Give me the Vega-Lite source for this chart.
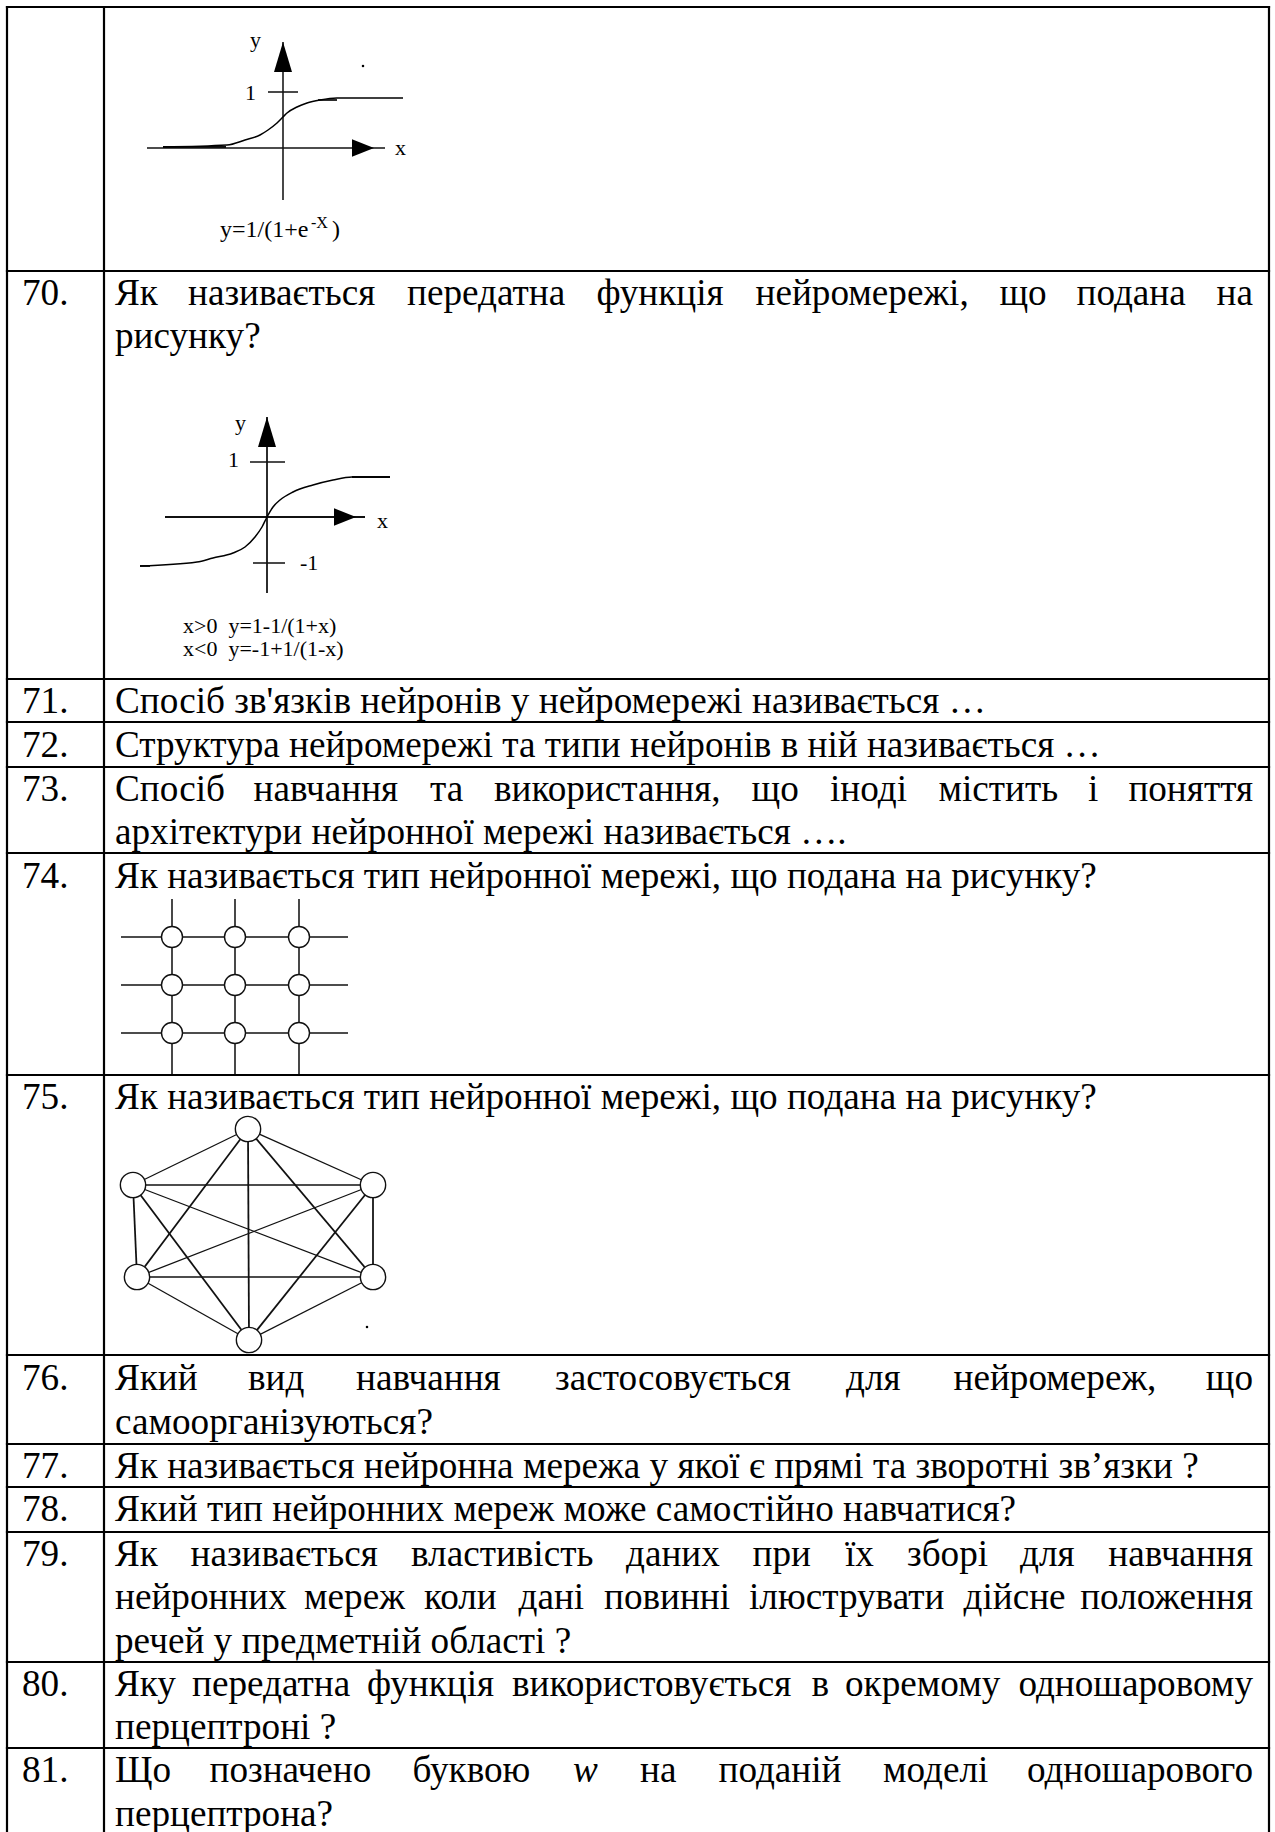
{
  "$schema": "https://vega.github.io/schema/vega-lite/v6.json",
  "width": 1275,
  "height": 1832,
  "autosize": "none",
  "padding": 0,
  "background": "white",
  "config": {"view": {"stroke": null}},
  "datasets": {
    "borders": [
      {"x": 7, "y": 7, "x2": 7, "y2": 1832},
      {"x": 104, "y": 7, "x2": 104, "y2": 1832},
      {"x": 1269, "y": 7, "x2": 1269, "y2": 1832},
      {"x": 7, "y": 7, "x2": 1269, "y2": 7},
      {"x": 7, "y": 271, "x2": 1269, "y2": 271},
      {"x": 7, "y": 679, "x2": 1269, "y2": 679},
      {"x": 7, "y": 722, "x2": 1269, "y2": 722},
      {"x": 7, "y": 767, "x2": 1269, "y2": 767},
      {"x": 7, "y": 853, "x2": 1269, "y2": 853},
      {"x": 7, "y": 1075, "x2": 1269, "y2": 1075},
      {"x": 7, "y": 1355, "x2": 1269, "y2": 1355},
      {"x": 7, "y": 1444, "x2": 1269, "y2": 1444},
      {"x": 7, "y": 1487, "x2": 1269, "y2": 1487},
      {"x": 7, "y": 1532, "x2": 1269, "y2": 1532},
      {"x": 7, "y": 1662, "x2": 1269, "y2": 1662},
      {"x": 7, "y": 1748, "x2": 1269, "y2": 1748}
    ],
    "segments": [
      {"x": 283, "y": 42, "x2": 283, "y2": 200, "w": "medium"},
      {"x": 147, "y": 148, "x2": 385, "y2": 148, "w": "medium"},
      {"x": 268, "y": 92, "x2": 298, "y2": 92, "w": "medium"},
      {"x": 163, "y": 147, "x2": 226, "y2": 147, "w": "heavy"},
      {"x": 318, "y": 100, "x2": 337, "y2": 100, "w": "thick"},
      {"x": 267, "y": 417, "x2": 267, "y2": 593, "w": "thick"},
      {"x": 165, "y": 517, "x2": 365, "y2": 517, "w": "thick"},
      {"x": 250, "y": 462, "x2": 285, "y2": 462, "w": "medium"},
      {"x": 253, "y": 563, "x2": 285, "y2": 563, "w": "medium"},
      {"x": 352, "y": 477, "x2": 390, "y2": 477, "w": "thick"},
      {"x": 140, "y": 566, "x2": 150, "y2": 566, "w": "thick"},
      {"x": 121, "y": 937, "x2": 348, "y2": 937, "w": "medium"},
      {"x": 121, "y": 985, "x2": 348, "y2": 985, "w": "medium"},
      {"x": 121, "y": 1033, "x2": 348, "y2": 1033, "w": "medium"},
      {"x": 172, "y": 899, "x2": 172, "y2": 1075, "w": "medium"},
      {"x": 235, "y": 899, "x2": 235, "y2": 1075, "w": "medium"},
      {"x": 299, "y": 899, "x2": 299, "y2": 1075, "w": "medium"},
      {"x": 248, "y": 1129, "x2": 133, "y2": 1185, "w": "thin"},
      {"x": 248, "y": 1129, "x2": 373, "y2": 1185, "w": "thin"},
      {"x": 133, "y": 1185, "x2": 373, "y2": 1277, "w": "thin"},
      {"x": 373, "y": 1185, "x2": 137, "y2": 1277, "w": "thin"},
      {"x": 137, "y": 1277, "x2": 249, "y2": 1340, "w": "thin"},
      {"x": 373, "y": 1277, "x2": 249, "y2": 1340, "w": "thin"},
      {"x": 133, "y": 1185, "x2": 373, "y2": 1185, "w": "medium"},
      {"x": 137, "y": 1277, "x2": 373, "y2": 1277, "w": "medium"},
      {"x": 248, "y": 1129, "x2": 137, "y2": 1277, "w": "thick"},
      {"x": 248, "y": 1129, "x2": 373, "y2": 1277, "w": "thick"},
      {"x": 248, "y": 1129, "x2": 249, "y2": 1340, "w": "thick"},
      {"x": 133, "y": 1185, "x2": 249, "y2": 1340, "w": "thick"},
      {"x": 373, "y": 1185, "x2": 249, "y2": 1340, "w": "thick"},
      {"x": 133, "y": 1185, "x2": 137, "y2": 1277, "w": "thick"},
      {"x": 373, "y": 1185, "x2": 373, "y2": 1277, "w": "thick"}
    ],
    "curves": [
      {"s": "sigmoid", "o": 1, "x": 163, "y": 147},
      {"s": "sigmoid", "o": 2, "x": 227, "y": 145},
      {"s": "sigmoid", "o": 3, "x": 245, "y": 140},
      {"s": "sigmoid", "o": 4, "x": 260, "y": 135},
      {"s": "sigmoid", "o": 5, "x": 268, "y": 130},
      {"s": "sigmoid", "o": 6, "x": 277, "y": 123},
      {"s": "sigmoid", "o": 7, "x": 283, "y": 117},
      {"s": "sigmoid", "o": 8, "x": 287, "y": 113},
      {"s": "sigmoid", "o": 9, "x": 297, "y": 107},
      {"s": "sigmoid", "o": 10, "x": 307, "y": 103},
      {"s": "sigmoid", "o": 11, "x": 320, "y": 100},
      {"s": "sigmoid", "o": 12, "x": 337, "y": 98},
      {"s": "sigmoid", "o": 13, "x": 403, "y": 98},
      {"s": "rational", "o": 1, "x": 140, "y": 566},
      {"s": "rational", "o": 2, "x": 197, "y": 562},
      {"s": "rational", "o": 3, "x": 213, "y": 558},
      {"s": "rational", "o": 4, "x": 233, "y": 553},
      {"s": "rational", "o": 5, "x": 245, "y": 547},
      {"s": "rational", "o": 6, "x": 255, "y": 537},
      {"s": "rational", "o": 7, "x": 262, "y": 527},
      {"s": "rational", "o": 8, "x": 267, "y": 517},
      {"s": "rational", "o": 9, "x": 273, "y": 507},
      {"s": "rational", "o": 10, "x": 280, "y": 500},
      {"s": "rational", "o": 11, "x": 293, "y": 492},
      {"s": "rational", "o": 12, "x": 313, "y": 485},
      {"s": "rational", "o": 13, "x": 333, "y": 480},
      {"s": "rational", "o": 14, "x": 352, "y": 477},
      {"s": "rational", "o": 15, "x": 390, "y": 477}
    ],
    "arrows": [
      {"x": 283, "y": 57, "dir": "up"},
      {"x": 363, "y": 148, "dir": "right"},
      {"x": 267, "y": 432, "dir": "up"},
      {"x": 345, "y": 517, "dir": "right"}
    ],
    "nodes": [
      {"x": 172, "y": 937, "net": "grid"},
      {"x": 235, "y": 937, "net": "grid"},
      {"x": 299, "y": 937, "net": "grid"},
      {"x": 172, "y": 985, "net": "grid"},
      {"x": 235, "y": 985, "net": "grid"},
      {"x": 299, "y": 985, "net": "grid"},
      {"x": 172, "y": 1033, "net": "grid"},
      {"x": 235, "y": 1033, "net": "grid"},
      {"x": 299, "y": 1033, "net": "grid"},
      {"x": 248, "y": 1129, "net": "hex"},
      {"x": 133, "y": 1185, "net": "hex"},
      {"x": 373, "y": 1185, "net": "hex"},
      {"x": 137, "y": 1277, "net": "hex"},
      {"x": 373, "y": 1277, "net": "hex"},
      {"x": 249, "y": 1340, "net": "hex"}
    ],
    "dots": [
      {"x": 363, "y": 66},
      {"x": 367, "y": 1327}
    ],
    "texts": [
      {"role": "label", "x": 250, "y": 47, "t": "y"},
      {"role": "label", "x": 245, "y": 100, "t": "1"},
      {"role": "label", "x": 395, "y": 155, "t": "x"},
      {"role": "formula", "x": 220, "y": 237, "t": "y=1/(1+e"},
      {"role": "sup", "x": 311, "y": 228, "t": "-X"},
      {"role": "formula", "x": 332, "y": 237, "t": ")"},
      {"role": "label", "x": 235, "y": 430, "t": "y"},
      {"role": "label", "x": 228, "y": 467, "t": "1"},
      {"role": "label", "x": 377, "y": 528, "t": "x"},
      {"role": "label", "x": 300, "y": 570, "t": "-1"},
      {"role": "label", "x": 183, "y": 633, "t": "x>0\u00a0 y=1-1/(1+x)"},
      {"role": "label", "x": 183, "y": 656, "t": "x<0\u00a0 y=-1+1/(1-x)"},

      {"role": "num", "x": 22, "y": 305, "t": "70."},
      {"role": "num", "x": 22, "y": 713, "t": "71."},
      {"role": "num", "x": 22, "y": 757, "t": "72."},
      {"role": "num", "x": 22, "y": 801, "t": "73."},
      {"role": "num", "x": 22, "y": 888, "t": "74."},
      {"role": "num", "x": 22, "y": 1109, "t": "75."},
      {"role": "num", "x": 22, "y": 1390, "t": "76."},
      {"role": "num", "x": 22, "y": 1478, "t": "77."},
      {"role": "num", "x": 22, "y": 1521, "t": "78."},
      {"role": "num", "x": 22, "y": 1566, "t": "79."},
      {"role": "num", "x": 22, "y": 1696, "t": "80."},
      {"role": "num", "x": 22, "y": 1782, "t": "81."},

      {"role": "body", "x": 115, "y": 305, "t": "Як"},
      {"role": "body", "x": 188, "y": 305, "t": "називається"},
      {"role": "body", "x": 407, "y": 305, "t": "передатна"},
      {"role": "body", "x": 596.6, "y": 305, "t": "функція"},
      {"role": "body", "x": 755.5, "y": 305, "t": "нейромережі,"},
      {"role": "body", "x": 999.4, "y": 305, "t": "що"},
      {"role": "body", "x": 1076.5, "y": 305, "t": "подана"},
      {"role": "bodyEnd", "x": 1253, "y": 305, "t": "на"},
      {"role": "body", "x": 115, "y": 348, "t": "рисунку?"},

      {"role": "body", "x": 115, "y": 713, "t": "Спосіб зв'язків нейронів у нейромережі називається …"},
      {"role": "body", "x": 115, "y": 757, "t": "Структура нейромережі та типи нейронів в ній називається …"},

      {"role": "body", "x": 115, "y": 801, "t": "Спосіб"},
      {"role": "body", "x": 253.5, "y": 801, "t": "навчання"},
      {"role": "body", "x": 430, "y": 801, "t": "та"},
      {"role": "body", "x": 494, "y": 801, "t": "використання,"},
      {"role": "body", "x": 751.5, "y": 801, "t": "що"},
      {"role": "body", "x": 830, "y": 801, "t": "іноді"},
      {"role": "body", "x": 938.5, "y": 801, "t": "містить"},
      {"role": "body", "x": 1088, "y": 801, "t": "і"},
      {"role": "bodyEnd", "x": 1253, "y": 801, "t": "поняття"},
      {"role": "body", "x": 115, "y": 844, "t": "архітектури нейронної мережі називається …."},

      {"role": "body", "x": 115, "y": 888, "t": "Як називається тип нейронної мережі, що подана на рисунку?"},
      {"role": "body", "x": 115, "y": 1109, "t": "Як називається тип нейронної мережі, що подана на рисунку?"},

      {"role": "body", "x": 115, "y": 1390, "t": "Який"},
      {"role": "body", "x": 248, "y": 1390, "t": "вид"},
      {"role": "body", "x": 356, "y": 1390, "t": "навчання"},
      {"role": "body", "x": 555, "y": 1390, "t": "застосовується"},
      {"role": "body", "x": 846, "y": 1390, "t": "для"},
      {"role": "body", "x": 953.5, "y": 1390, "t": "нейромереж,"},
      {"role": "bodyEnd", "x": 1253, "y": 1390, "t": "що"},
      {"role": "body", "x": 115, "y": 1434, "t": "самоорганізуються?"},

      {"role": "body", "x": 115, "y": 1478, "t": "Як називається нейронна мережа у якої є прямі та зворотні зв’язки ?"},
      {"role": "body", "x": 115, "y": 1521, "t": "Який тип нейронних мереж може самостійно навчатися?"},

      {"role": "body", "x": 115, "y": 1566, "t": "Як"},
      {"role": "body", "x": 190.5, "y": 1566, "t": "називається"},
      {"role": "body", "x": 411, "y": 1566, "t": "властивість"},
      {"role": "body", "x": 626, "y": 1566, "t": "даних"},
      {"role": "body", "x": 752.5, "y": 1566, "t": "при"},
      {"role": "body", "x": 845, "y": 1566, "t": "їх"},
      {"role": "body", "x": 907, "y": 1566, "t": "зборі"},
      {"role": "body", "x": 1020, "y": 1566, "t": "для"},
      {"role": "bodyEnd", "x": 1253, "y": 1566, "t": "навчання"},
      {"role": "body", "x": 115, "y": 1609, "t": "нейронних"},
      {"role": "body", "x": 304, "y": 1609, "t": "мереж"},
      {"role": "body", "x": 424, "y": 1609, "t": "коли"},
      {"role": "body", "x": 518.5, "y": 1609, "t": "дані"},
      {"role": "body", "x": 604, "y": 1609, "t": "повинні"},
      {"role": "body", "x": 749, "y": 1609, "t": "ілюструвати"},
      {"role": "body", "x": 963.5, "y": 1609, "t": "дійсне"},
      {"role": "bodyEnd", "x": 1253, "y": 1609, "t": "положення"},
      {"role": "body", "x": 115, "y": 1653, "t": "речей у предметній області ?"},

      {"role": "body", "x": 115, "y": 1696, "t": "Яку"},
      {"role": "body", "x": 192, "y": 1696, "t": "передатна"},
      {"role": "body", "x": 367, "y": 1696, "t": "функція"},
      {"role": "body", "x": 512, "y": 1696, "t": "використовується"},
      {"role": "body", "x": 811.5, "y": 1696, "t": "в"},
      {"role": "body", "x": 845, "y": 1696, "t": "окремому"},
      {"role": "bodyEnd", "x": 1253, "y": 1696, "t": "одношаровому"},
      {"role": "body", "x": 115, "y": 1739, "t": "перцептроні ?"},

      {"role": "body", "x": 115, "y": 1782, "t": "Що"},
      {"role": "body", "x": 209.5, "y": 1782, "t": "позначено"},
      {"role": "body", "x": 412.5, "y": 1782, "t": "буквою"},
      {"role": "italic", "x": 573, "y": 1782, "t": "w"},
      {"role": "body", "x": 640, "y": 1782, "t": "на"},
      {"role": "body", "x": 718.5, "y": 1782, "t": "поданій"},
      {"role": "body", "x": 883, "y": 1782, "t": "моделі"},
      {"role": "bodyEnd", "x": 1253, "y": 1782, "t": "одношарового"},
      {"role": "body", "x": 115, "y": 1826, "t": "перцептрона?"}
    ]
  },
  "encoding": {
    "x": {"field": "x", "type": "quantitative", "axis": null,
          "scale": {"domain": [0, 1275], "range": [0, 1275], "nice": false, "zero": false}},
    "y": {"field": "y", "type": "quantitative", "axis": null,
          "scale": {"domain": [0, 1832], "range": [0, 1832], "nice": false, "zero": false}}
  },
  "layer": [
    {
      "data": {"name": "segments"},
      "mark": {"type": "rule", "color": "#111111", "strokeCap": "butt"},
      "encoding": {
        "x2": {"field": "x2"},
        "y2": {"field": "y2"},
        "strokeWidth": {"field": "w", "type": "ordinal", "legend": null,
                        "scale": {"domain": ["thin", "medium", "thick", "heavy"], "range": [1.3, 2, 3, 4.5]}}
      }
    },
    {
      "data": {"name": "curves"},
      "mark": {"type": "line", "color": "black", "strokeWidth": 1.5, "interpolate": "monotone"},
      "encoding": {
        "detail": {"field": "s", "type": "nominal"},
        "order": {"field": "o", "type": "quantitative"}
      }
    },
    {
      "data": {"name": "arrows"},
      "transform": [{"filter": "datum.dir === 'up'"}],
      "mark": {"type": "point", "shape": "M0,-1L0.6,1L-0.6,1Z", "filled": true, "color": "black", "size": 900, "opacity": 1},
      "encoding": {}
    },
    {
      "data": {"name": "arrows"},
      "transform": [{"filter": "datum.dir === 'right'"}],
      "mark": {"type": "point", "shape": "M1,0L-1,-0.8L-1,0.8Z", "filled": true, "color": "black", "size": 484, "opacity": 1},
      "encoding": {}
    },
    {
      "data": {"name": "nodes"},
      "mark": {"type": "point", "shape": "circle", "filled": true, "fill": "white", "stroke": "#111111", "strokeWidth": 1.4, "opacity": 1},
      "encoding": {
        "size": {"field": "net", "type": "nominal", "legend": null,
                 "scale": {"domain": ["grid", "hex"], "range": [440, 640]}}
      }
    },
    {
      "data": {"name": "dots"},
      "mark": {"type": "point", "shape": "square", "filled": true, "color": "black", "size": 5, "opacity": 1},
      "encoding": {}
    },
    {
      "data": {"name": "borders"},
      "mark": {"type": "rule", "color": "black", "strokeWidth": 2.2, "strokeCap": "square"},
      "encoding": {"x2": {"field": "x2"}, "y2": {"field": "y2"}}
    },
    {
      "data": {"name": "texts"},
      "transform": [{"filter": "datum.role === 'body' || datum.role === 'num'"}],
      "mark": {"type": "text", "font": "Liberation Serif", "fontSize": 37.2, "align": "left", "baseline": "alphabetic", "color": "black"},
      "encoding": {"text": {"field": "t"}}
    },
    {
      "data": {"name": "texts"},
      "transform": [{"filter": "datum.role === 'bodyEnd'"}],
      "mark": {"type": "text", "font": "Liberation Serif", "fontSize": 37.2, "align": "right", "baseline": "alphabetic", "color": "black"},
      "encoding": {"text": {"field": "t"}}
    },
    {
      "data": {"name": "texts"},
      "transform": [{"filter": "datum.role === 'italic'"}],
      "mark": {"type": "text", "font": "Liberation Serif", "fontSize": 37.2, "fontStyle": "italic", "align": "left", "baseline": "alphabetic", "color": "black"},
      "encoding": {"text": {"field": "t"}}
    },
    {
      "data": {"name": "texts"},
      "transform": [{"filter": "datum.role === 'label'"}],
      "mark": {"type": "text", "font": "Liberation Serif", "fontSize": 22, "align": "left", "baseline": "alphabetic", "color": "black"},
      "encoding": {"text": {"field": "t"}}
    },
    {
      "data": {"name": "texts"},
      "transform": [{"filter": "datum.role === 'formula'"}],
      "mark": {"type": "text", "font": "Liberation Serif", "fontSize": 24, "align": "left", "baseline": "alphabetic", "color": "black"},
      "encoding": {"text": {"field": "t"}}
    },
    {
      "data": {"name": "texts"},
      "transform": [{"filter": "datum.role === 'sup'"}],
      "mark": {"type": "text", "font": "Liberation Serif", "fontSize": 16, "align": "left", "baseline": "alphabetic", "color": "black"},
      "encoding": {"text": {"field": "t"}}
    }
  ]
}
